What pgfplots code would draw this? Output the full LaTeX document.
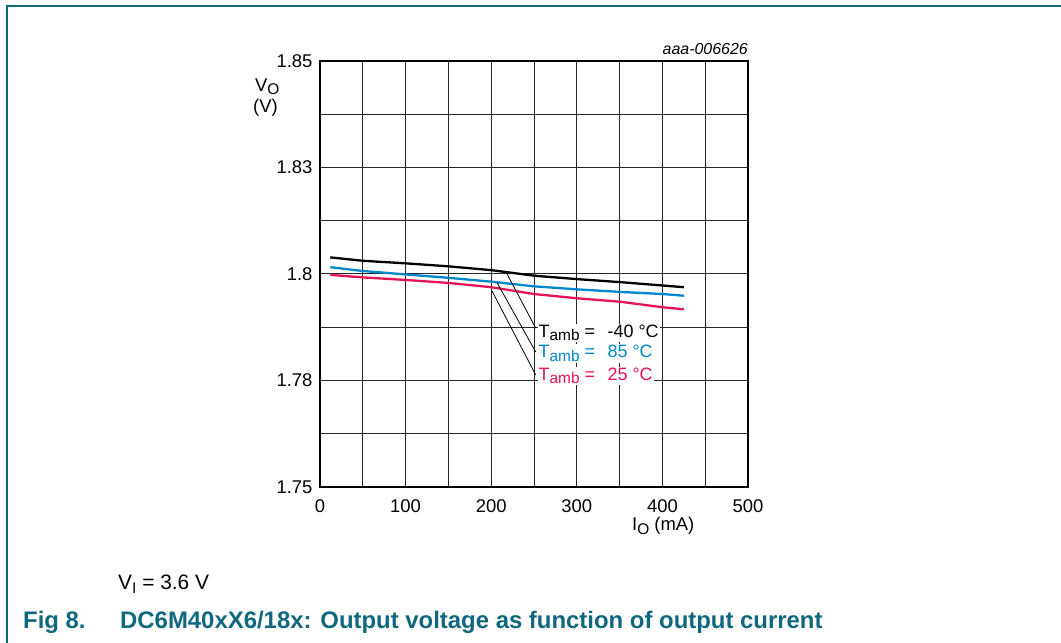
\documentclass[border=0pt]{standalone}
\usepackage{pgfplots}
\pgfplotsset{compat=1.18}
\usepackage{fontspec}
\setmainfont{Liberation Sans}
\definecolor{nxpteal}{RGB}{16,104,128}
\definecolor{c85}{RGB}{0,134,203}
\definecolor{c25}{RGB}{231,19,88}
\newcommand{\fs}[1]{\fontsize{#1}{#1}\selectfont}
\newcommand{\sub}[1]{\raisebox{-3.5bp}{\fs{15.5}#1}}
\newcommand{\tamb}[1]{\makebox[69bp][l]{T\sub{amb} =}#1 °C}

\begin{document}
\begin{tikzpicture}[x=1bp,y=1bp]
\path[use as bounding box] (0,0) rectangle (1061,643);
% page frame
\draw[nxpteal, line width=2bp] (7,0) -- (7,637) -- (1061,637);

\begin{axis}[
    at={(320bp,156bp)}, anchor=south west,
    scale only axis, width=428bp, height=426bp,
    xmin=0, xmax=500, ymin=1.75, ymax=1.85,
    xtick={0,100,...,500},
    minor xtick={50,150,...,450},
    ytick={1.75,1.775,1.8,1.825,1.85},
    yticklabels={1.75,1.78,1.8,1.83,1.85},
    minor ytick={1.7625,1.7875,1.8125,1.8375},
    grid=both,
    major grid style={black!85, line width=1bp},
    minor grid style={black!85, line width=1bp},
    axis line style={black, line width=1.3bp},
    major tick length=0pt, minor tick length=0pt,
    tick label style={font=\fs{18.5}},
    /pgf/number format/assume math mode=true,
    xticklabel style={yshift=-9bp},
    yticklabel style={xshift=-4bp},
    clip=false,
]
\addplot[black, line width=2.3bp] coordinates {
    (12,1.8039) (50,1.8031) (100,1.8025) (150,1.8018) (200,1.8009)
    (250,1.7996) (300,1.7988) (350,1.7981) (400,1.7973) (425,1.7969)
};
\addplot[c85, line width=2.3bp] coordinates {
    (12,1.8016) (50,1.8007) (100,1.7999) (150,1.7991) (200,1.7982)
    (250,1.7971) (300,1.7964) (350,1.7958) (400,1.7953) (425,1.7949)
};
\addplot[c25, line width=2.3bp] coordinates {
    (12,1.7998) (50,1.7992) (100,1.7986) (150,1.7979) (200,1.7969)
    (250,1.7953) (300,1.7943) (350,1.7935) (400,1.7922) (425,1.7917)
};
% annotation leaders
\draw[black, line width=0.8bp] (axis cs:218,1.8002) -- (axis cs:252,1.7873);
\draw[black, line width=0.8bp] (axis cs:207,1.7979) -- (axis cs:252,1.7817);
\draw[black, line width=0.8bp] (axis cs:201,1.7960) -- (axis cs:252,1.7763);
\node[anchor=base west, fill=white, inner sep=1bp, font=\fs{18}] at (axis cs:254,1.7852) {\tamb{-40}};
\node[anchor=base west, fill=white, inner sep=1bp, font=\fs{18}, text=c85] at (axis cs:254,1.7803) {\tamb{85}};
\node[anchor=base west, fill=white, inner sep=1bp, font=\fs{18}, text=c25] at (axis cs:254,1.7751) {\tamb{25}};
\end{axis}

% axis titles and ID
\node[anchor=base east, font=\fs{16}\itshape, inner sep=0pt] at (748,588) {aaa-006626};
\node[anchor=base west, font=\fs{18.5}, inner sep=0pt] at (255,551) {V\raisebox{-2.5bp}{\fs{15.5}O}};
\node[anchor=base west, font=\fs{18.5}, inner sep=0pt] at (253,530) {(V)};
\node[anchor=base west, font=\fs{18.5}, inner sep=0pt] at (632,112) {I\sub{O} (mA)};
% notes and caption
\node[anchor=base west, font=\fs{21}, inner sep=0pt] at (118,53) {V\sub{I} = 3.6 V};
\node[anchor=base west, font=\fs{24}\bfseries, text=nxpteal, inner sep=0pt] at (23,14) {Fig 8.};
\node[anchor=base west, font=\fs{24}\bfseries, text=nxpteal, inner sep=0pt] at (120,14) {DC6M40xX6/18x: Output voltage as function of output current};
\end{tikzpicture}
\end{document}
